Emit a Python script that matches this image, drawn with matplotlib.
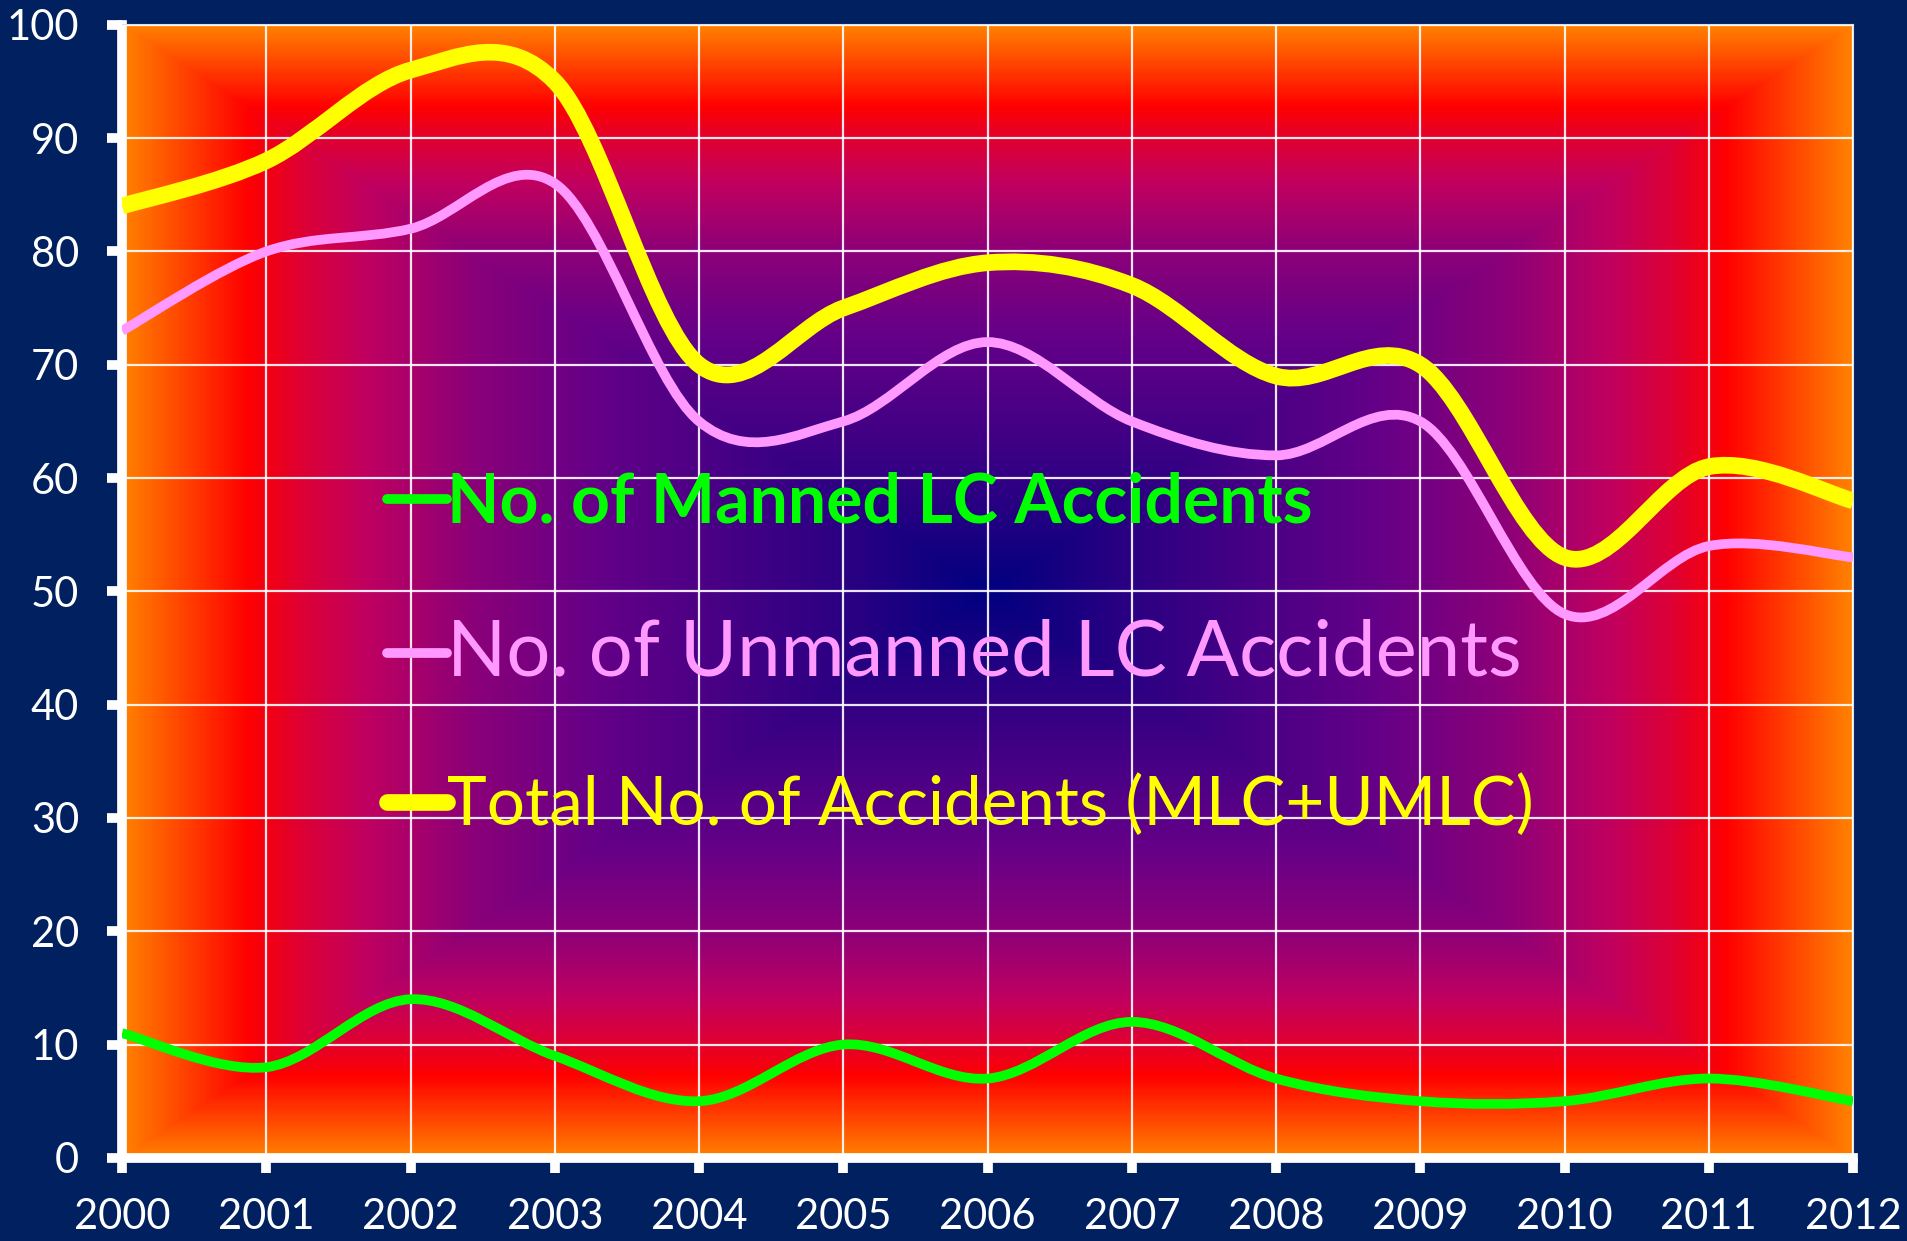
import numpy as np
import matplotlib
matplotlib.use("Agg")
import matplotlib.pyplot as plt
from matplotlib.path import Path
from matplotlib.patches import PathPatch
from matplotlib.lines import Line2D
from matplotlib.colors import LinearSegmentedColormap

# data
years = [2000, 2001, 2002, 2003, 2004, 2005, 2006, 2007, 2008, 2009, 2010, 2011, 2012]
manned = [11, 8, 14, 9, 5, 10, 7, 12, 7, 5, 5, 7, 5]
unmanned = [73, 80, 82, 86, 65, 65, 72, 65, 62, 65, 48, 54, 53]
total = [84, 88, 96, 95, 70, 75, 79, 77, 69, 70, 53, 61, 58]
series_labels = ["No. of Manned LC Accidents", "No. of Unmanned LC Accidents", "Total No. of Accidents (MLC+UMLC)"]
series_colors = ["#00FF00", "#FF99FF", "#FFFF00"]
y_ticks = list(range(0, 101, 10))

plt.rcParams['font.family'] = ['Lato', 'DejaVu Sans']


def smooth_path(xs, ys):
    # Excel-style smoothed line: cubic bezier segments through each point
    pts = np.column_stack([xs, ys]).astype(float)
    n = len(pts)
    verts = [pts[0]]
    codes = [Path.MOVETO]
    for i in range(n - 1):
        p0 = pts[max(i - 1, 0)]
        p1 = pts[i]
        p2 = pts[i + 1]
        p3 = pts[min(i + 2, n - 1)]
        verts += [p1 + (p2 - p0) / 6, p2 - (p3 - p1) / 6, p2]
        codes += [Path.CURVE4] * 3
    return Path(verts, codes)


bg = "#002060"
fig = plt.figure(figsize=(19.07, 12.41), dpi=100, facecolor=bg)
ax = fig.add_axes([0.064, 0.067, 0.9077, 0.913])

# rectangular gradient fill of the plot area
u = np.linspace(-1, 1, 900)
v = np.linspace(-1, 1, 600)
U, V = np.meshgrid(u, v)
T = np.maximum(np.abs(U), np.abs(V))
cmap = LinearSegmentedColormap.from_list("bg", [
    (0.0, (0 / 255, 0, 128 / 255)),
    (0.15, (40 / 255, 0, 130 / 255)),
    (0.45, (100 / 255, 0, 136 / 255)),
    (0.6, (140 / 255, 0, 120 / 255)),
    (0.72, (192 / 255, 0, 96 / 255)),
    (0.79, (220 / 255, 0, 55 / 255)),
    (0.857, (1, 0, 0)),
    (1.0, (1, 128 / 255, 0)),
])
ax.imshow(T, cmap=cmap, vmin=0, vmax=1, extent=[0, 1, 0, 1], transform=ax.transAxes,
          aspect='auto', zorder=0, interpolation='bilinear')

widths = [7, 7, 12]
for vals, col, lw in zip([manned, unmanned, total], series_colors, widths):
    ax.add_patch(PathPatch(smooth_path(years, vals), facecolor='none', edgecolor=col,
                           lw=lw, capstyle='butt', joinstyle='round', zorder=3))

ax.set_xlim(2000, 2012)
ax.set_ylim(0, 100)
ax.set_xticks(years)
ax.set_yticks(y_ticks)
ax.grid(True, color='white', lw=1.6, alpha=0.9)
ax.set_axisbelow(False)
for ln in ax.get_xgridlines() + ax.get_ygridlines():
    ln.set_zorder(1)

for s in ['left', 'bottom']:
    ax.spines[s].set_color('white')
    ax.spines[s].set_linewidth(7)
for s in ['top', 'right']:
    ax.spines[s].set_color('#E0E0E0')
    ax.spines[s].set_linewidth(1.5)
ax.tick_params(axis='both', colors='white', direction='out', length=11, width=7,
               labelsize=30, pad=18)
ax.tick_params(axis='y', pad=20)
ax.tick_params(top=False, right=False)

handles = [Line2D([], [], color=c, lw=lw, solid_capstyle='round') for c, lw in zip(series_colors, widths)]
leg = ax.legend(handles, series_labels, loc='upper left', bbox_to_anchor=(0.153, 0.606),
                frameon=False, fontsize=48, handlelength=0.9, handletextpad=0.0,
                labelspacing=1.27, borderaxespad=0, borderpad=0)
texts = leg.get_texts()
for t, c in zip(texts, series_colors):
    t.set_color(c)
texts[0].set_fontweight('bold')
texts[0].set_fontsize(49)
texts[1].set_fontsize(56)
texts[2].set_fontsize(48.5)
leg.set_zorder(5)

fig.savefig("out.png", dpi=100, facecolor=bg)
